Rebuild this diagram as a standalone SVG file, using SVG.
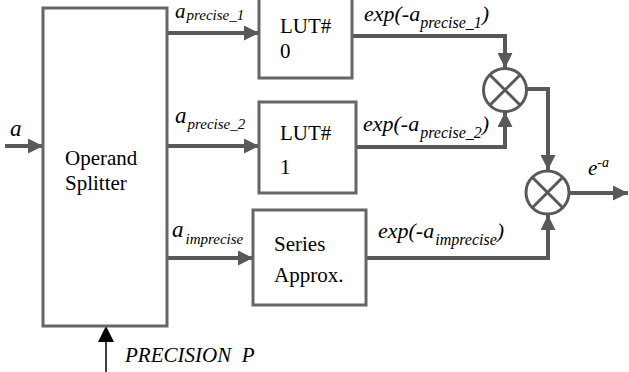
<svg xmlns="http://www.w3.org/2000/svg" width="629" height="372" viewBox="0 0 629 372">
<style>
.box{fill:#fff;stroke:#666;stroke-width:3}
.wire{fill:none;stroke:#595959;stroke-width:4}
.t{font-size:21px}
.i{font-style:italic}
.mul{fill:#fff;stroke:#595959;stroke-width:3}
</style>
<defs>
<marker id="ah" viewBox="0 0 15 15" refX="15" refY="7.5" markerWidth="15" markerHeight="15" markerUnits="userSpaceOnUse" orient="auto">
<path d="M0,0 L15,7.5 L0,15 z" fill="#595959"/>
</marker>
<marker id="ahk" viewBox="0 0 16 18" refX="16" refY="8" markerWidth="16" markerHeight="18" markerUnits="userSpaceOnUse" orient="auto">
<path d="M0,0 L16,8 L0,16 z" fill="#000"/>
</marker>
</defs>
<g id="connectors">
<path class="wire" d="M5 146 H43" marker-end="url(#ah)"/>
<path class="wire" d="M163 33 H259" marker-end="url(#ah)"/>
<path class="wire" d="M168 146 H259" marker-end="url(#ah)"/>
<path class="wire" d="M168 258 H253" marker-end="url(#ah)"/>
<path class="wire" d="M352 36 H505 V68" marker-end="url(#ah)"/>
<path class="wire" d="M356 147 H505 V112" marker-end="url(#ah)"/>
<path class="wire" d="M527 89 H548 V170" marker-end="url(#ah)"/>
<path class="wire" d="M366 258 H548 V215" marker-end="url(#ah)"/>
<path class="wire" d="M569 193 H628" marker-end="url(#ah)"/>
<path d="M106 372 V326" fill="none" stroke="#000" stroke-width="1.5" marker-end="url(#ahk)"/>
</g>
<g font-family="Liberation Serif, DejaVu Serif, serif" fill="#000">
<g id="splitter">
<rect class="box" x="43" y="8" width="124" height="318"/>
<text class="t" x="65" y="165">Operand</text>
<text class="t" x="65" y="190">Splitter</text>
</g>
<g id="lut0">
<rect class="box" x="259" y="-5" width="93" height="83"/>
<text class="t" x="280" y="33">LUT#</text>
<text class="t" x="280" y="58">0</text>
</g>
<g id="lut1">
<rect class="box" x="259" y="102" width="97" height="91"/>
<text class="t" x="280" y="140">LUT#</text>
<text class="t" x="280" y="174">1</text>
</g>
<g id="series">
<rect class="box" x="253" y="210" width="113" height="95"/>
<text class="t" x="274" y="251">Series</text>
<text class="t" x="274" y="282">Approx.</text>
</g>
<g id="mult1">
<circle class="mul" cx="505" cy="90" r="21.5"/>
<path d="M489.5 74.5 L520.5 105.5 M520.5 74.5 L489.5 105.5" stroke="#595959" stroke-width="3"/>
</g>
<g id="mult2">
<circle class="mul" cx="547.5" cy="192.5" r="21.5"/>
<path d="M532 177 L563 208 M563 177 L532 208" stroke="#595959" stroke-width="3"/>
</g>
<g id="labels">
<text class="i" x="10" y="136" font-size="23">a</text>
<text class="i" x="175" y="18" font-size="21">a<tspan font-size="15" dy="2" dx="1">precise_1</tspan></text>
<text class="i" x="175" y="123" font-size="23">a<tspan font-size="15" dy="6" dx="1">precise_2</tspan></text>
<text class="i" x="172" y="237" font-size="23">a<tspan font-size="15" dy="7" dx="2">imprecise</tspan></text>
<text class="i" x="364" y="21" font-size="22">exp(-a<tspan font-size="16" dy="7">precise_1</tspan><tspan dy="-7">)</tspan></text>
<text class="i" x="363" y="131" font-size="22">exp(-a<tspan font-size="16" dy="7" dx="1">precise_2</tspan><tspan dy="-7">)</tspan></text>
<text class="i" x="378" y="238" font-size="22">exp(-a<tspan font-size="16" dy="7" dx="1">imprecise</tspan><tspan dy="-7">)</tspan></text>
<text class="i" x="588" y="175" font-size="21">e<tspan font-size="14" dy="-8">-a</tspan></text>
<text class="i" x="125" y="362" font-size="21" xml:space="preserve">PRECISION  P</text>
</g>
</g>
</svg>
